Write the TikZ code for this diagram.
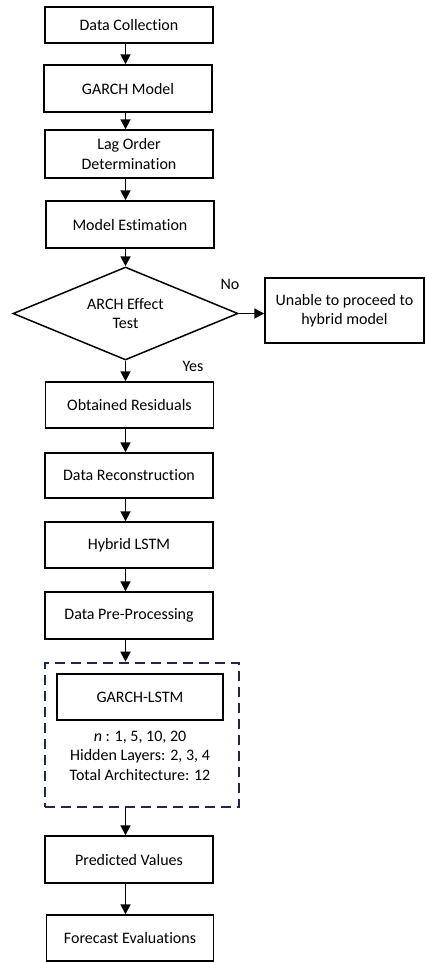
\documentclass[tikz,border=0pt]{standalone}
\usepackage{fontspec}
\setmainfont{Carlito}[Ligatures={NoCommon}]
\usetikzlibrary{shapes.geometric,arrows.meta}
\definecolor{navy}{HTML}{1F2A48}
\begin{document}
\begin{tikzpicture}[x=1pt,y=-1pt,
  every node/.style={font=\fontsize{16}{19.5}\selectfont, align=center, inner sep=0pt},
  stepbox/.style={draw, line width=1.5pt, minimum width=168pt},
  arr/.style={-{Triangle[width=10pt,length=10pt]}, line width=1.8pt},
  grpbox/.style={draw=navy, line width=2.6pt, dash pattern=on 10pt off 6pt, minimum width=194pt, minimum height=144pt},
  lbl/.style={font=\fontsize{16}{19}\selectfont}]
\useasboundingbox (0,0) rectangle (425,962);

% main chain of processing steps
\node[stepbox, minimum height=36pt] (dc) at (129,25) {Data Collection};
\node[stepbox, minimum height=47pt] (gm) at (128,88.5) {GARCH Model};
\node[stepbox, minimum height=48pt] (lo) at (129,154) {Lag Order\\Determination};
\node[stepbox, minimum height=47pt] (me) at (130,224.5) {Model Estimation};

% decision
\node[draw, diamond, line width=1.5pt, aspect=2.42, minimum width=225pt, minimum height=93pt] (dia) at (125.5,313.5) {ARCH Effect\\Test};
\node[stepbox, minimum width=159pt, minimum height=65pt] (un) at (344.5,310.5) {Unable to proceed to\\hybrid model};
\node[lbl] (no) at (230,284) {No};
\node[lbl] (yes) at (193,366) {Yes};

\node[stepbox, minimum height=46pt] (or) at (129.5,405) {Obtained Residuals};
\node[stepbox, minimum height=45pt] (dr) at (129,475.5) {Data Reconstruction};
\node[stepbox, minimum height=46pt] (hl) at (129,545) {Hybrid LSTM};
\node[stepbox, minimum height=47pt] (dp) at (129,615.5) {Data Pre-Processing};

% hybrid model group
\node[grpbox] (grp) at (142,735) {};
\node[stepbox, minimum width=166pt, minimum height=46pt] (gl) at (140,697) {GARCH-LSTM};
\node (par) at (140,755.5) {\textit{n} : 1, 5, 10, 20\\Hidden Layers: 2, 3, 4\\Total Architecture: 12};

\node[stepbox, minimum height=47pt] (pv) at (129,859.5) {Predicted Values};
\node[stepbox, minimum width=167pt, minimum height=46pt] (fe) at (130,938) {Forecast Evaluations};

% connectors
\draw[arr] (dc.south -| dia) -- (gm.north -| dia);
\draw[arr] (gm.south -| dia) -- (lo.north -| dia);
\draw[arr] (lo.south -| dia) -- (me.north -| dia);
\draw[arr] (me.south -| dia) -- (dia.north);
\draw[arr] (dia.east) -- (dia.east -| un.west);
\draw[arr] (dia.south) -- (or.north -| dia);
\draw[arr] (or.south -| dia) -- (dr.north -| dia);
\draw[arr] (dr.south -| dia) -- (hl.north -| dia);
\draw[arr] (hl.south -| dia) -- (dp.north -| dia);
\draw[arr] (dp.south -| dia) -- (grp.north -| dia);
\draw[arr] (grp.south -| dia) -- (pv.north -| dia);
\draw[arr] (pv.south -| dia) -- (fe.north -| dia);
\end{tikzpicture}
\end{document}
